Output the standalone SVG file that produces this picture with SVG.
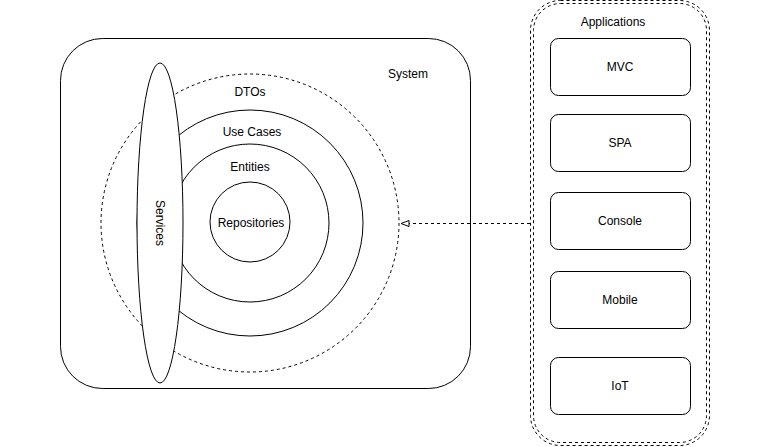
<svg xmlns="http://www.w3.org/2000/svg" width="771" height="447" viewBox="0 0 771 447">
<style>
text{font-family:"Liberation Sans",Arial,sans-serif;font-size:12px;fill:#000;text-anchor:middle;dominant-baseline:central}
.s{fill:#fff;stroke:#000;stroke-width:1}
.d{fill:none;stroke:#000;stroke-width:1;stroke-dasharray:3 3}
</style>
<defs>
<marker id="open" markerWidth="12" markerHeight="10" refX="10" refY="4" orient="auto" markerUnits="userSpaceOnUse" viewBox="0 0 12 10">
<path d="M1,1 L9,4 L1,7 Z" fill="#fff" stroke="#000" stroke-width="1"/>
</marker>
</defs>
<rect width="771" height="447" fill="#fff"/>
<g id="system">
<rect class="s" x="60.5" y="38.5" width="410" height="350" rx="42" ry="42"/>
<text x="408" y="74">System</text>
</g>
<g id="dtos">
<circle class="s" cx="250" cy="223" r="149" stroke-dasharray="3 3" stroke-width="1.5"/>
<text x="250" y="92">DTOs</text>
</g>
<g id="usecases">
<circle class="s" cx="250" cy="223" r="113"/>
<text x="252" y="132">Use Cases</text>
</g>
<g id="entities">
<circle class="s" cx="250" cy="223" r="79"/>
<text x="250" y="167">Entities</text>
</g>
<g id="repositories">
<circle class="s" cx="250" cy="222" r="40"/>
<text x="251" y="223">Repositories</text>
</g>
<g id="services">
<ellipse class="s" cx="160" cy="223" rx="23" ry="160"/>
<text x="160" y="223" transform="rotate(90 160 223)">Services</text>
</g>
<g id="applications">
<rect class="d" x="530.5" y="0.5" width="179" height="445" rx="30" ry="30"/>
<rect class="d" x="533.5" y="3.5" width="173" height="439" rx="27" ry="27"/>
<text x="613" y="22">Applications</text>
</g>
<g id="mvc"><rect class="s" x="550.5" y="38.5" width="140" height="57" rx="8"/><text x="620" y="67">MVC</text></g>
<g id="spa"><rect class="s" x="550.5" y="114.5" width="140" height="57" rx="8"/><text x="620" y="143">SPA</text></g>
<g id="console"><rect class="s" x="550.5" y="192.5" width="140" height="57" rx="8"/><text x="620" y="221">Console</text></g>
<g id="mobile"><rect class="s" x="550.5" y="271.5" width="140" height="57" rx="8"/><text x="620" y="300">Mobile</text></g>
<g id="iot"><rect class="s" x="550.5" y="357.5" width="140" height="57" rx="8"/><text x="620" y="386">IoT</text></g>
<g id="connectors">
<path d="M530,223.5 L400,223.5" fill="none" stroke="#000" stroke-width="1" stroke-dasharray="3 3" marker-end="url(#open)"/>
</g>
</svg>
